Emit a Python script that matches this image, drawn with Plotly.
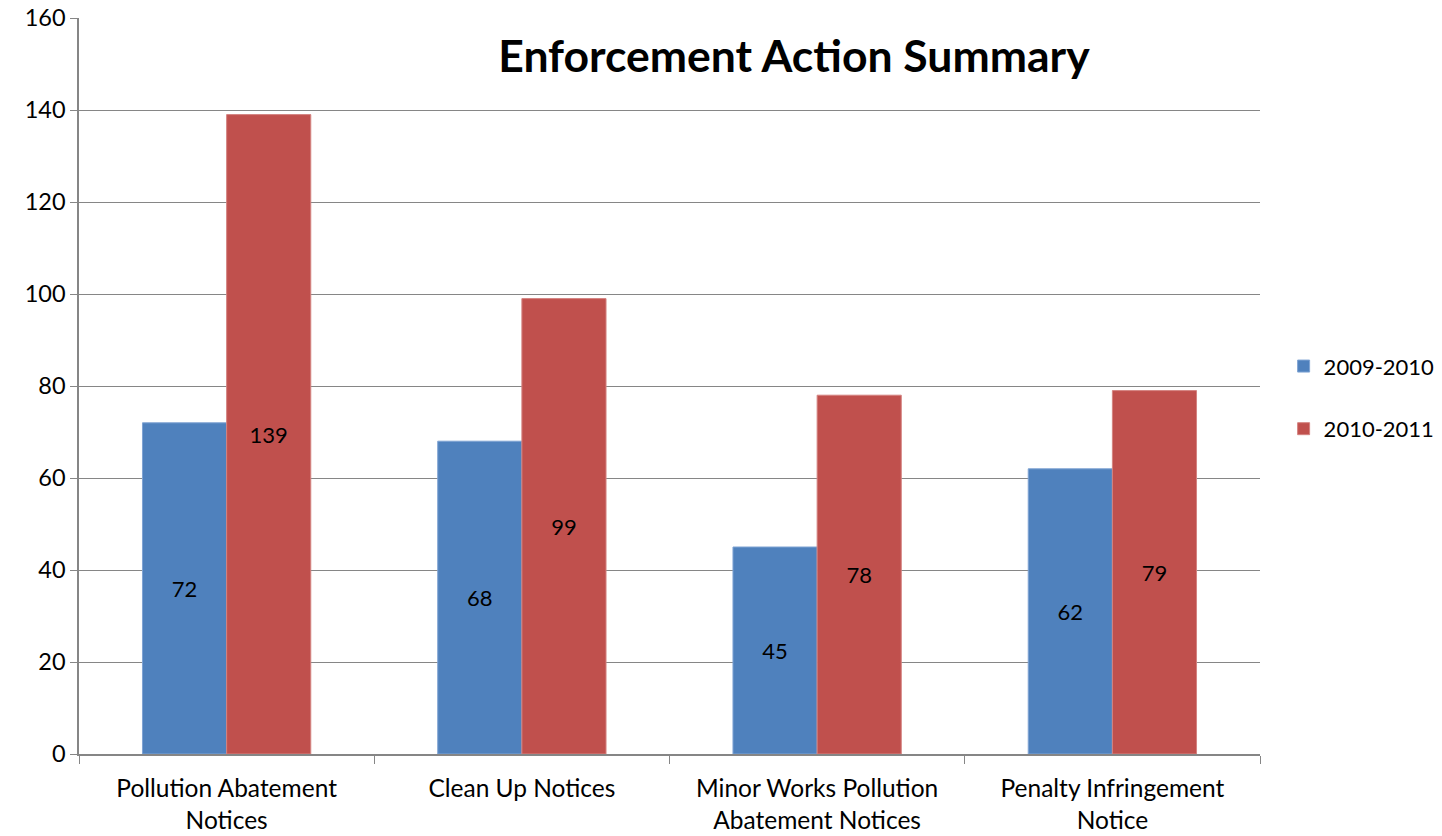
import plotly.graph_objects as go

categories = ["Pollution Abatement<br>Notices", "Clean Up Notices",
              "Minor Works Pollution<br>Abatement Notices", "Penalty Infringement<br>Notice"]
series_names = ["2009-2010", "2010-2011"]
values_2009 = [72, 68, 45, 62]
values_2010 = [139, 99, 78, 79]
colors = ["#4F81BD", "#C0504D"]
border_colors = ["#7FA3D3", "#D48380"]

FONT = "Lato, Calibri, 'Open Sans', sans-serif"

fig = go.Figure()
for i, (name, vals) in enumerate(zip(series_names, [values_2009, values_2010])):
    fig.add_trace(go.Bar(
        x=categories, y=vals, name=name, legendgroup=name,
        marker=dict(color=colors[i], line=dict(color=border_colors[i], width=1)),
        text=[str(v) for v in vals], textposition="inside", insidetextanchor="middle",
        textangle=0, textfont=dict(color="black", size=22, family=FONT),
        cliponaxis=False,
    ))

fig.update_layout(
    width=1442, height=836, autosize=False,
    barmode="group", bargap=0.43, bargroupgap=0,
    plot_bgcolor="white", paper_bgcolor="white",
    margin=dict(l=79, r=182, t=18, b=82, autoexpand=False),
    font=dict(family=FONT, size=22, color="black"),
    title=dict(text="<b>Enforcement Action Summary</b>", x=794 / 1442, xref="container",
               xanchor="center", y=1 - 56 / 836, yref="container", yanchor="middle",
               font=dict(size=44.5, family=FONT, color="black")),
    legend=dict(x=1.02, xanchor="left", y=0.484, yanchor="middle",
                traceorder="grouped", tracegroupgap=31,
                font=dict(size=22, family=FONT), itemwidth=30, bgcolor="rgba(0,0,0,0)"),
    showlegend=True,
    uniformtext=dict(minsize=10, mode="show"),
)
fig.update_yaxes(range=[0, 160], dtick=20, showgrid=True, gridcolor="#868686", gridwidth=1,
                 showline=True, linecolor="#868686", linewidth=1.5,
                 ticks="outside", ticklen=7, tickcolor="#868686",
                 tickfont=dict(size=23.5), zeroline=False, automargin=False)
fig.update_xaxes(showline=True, linecolor="#868686", linewidth=1.5,
                 ticks="outside", ticklen=8, tickcolor="#868686", tickson="boundaries",
                 tickfont=dict(size=24.5), automargin=False, ticklabelstandoff=12)

fig.write_html("out.html", config={"displayModeBar": False},
               post_script="document.body.style.margin='0';document.body.style.overflow='hidden';")
